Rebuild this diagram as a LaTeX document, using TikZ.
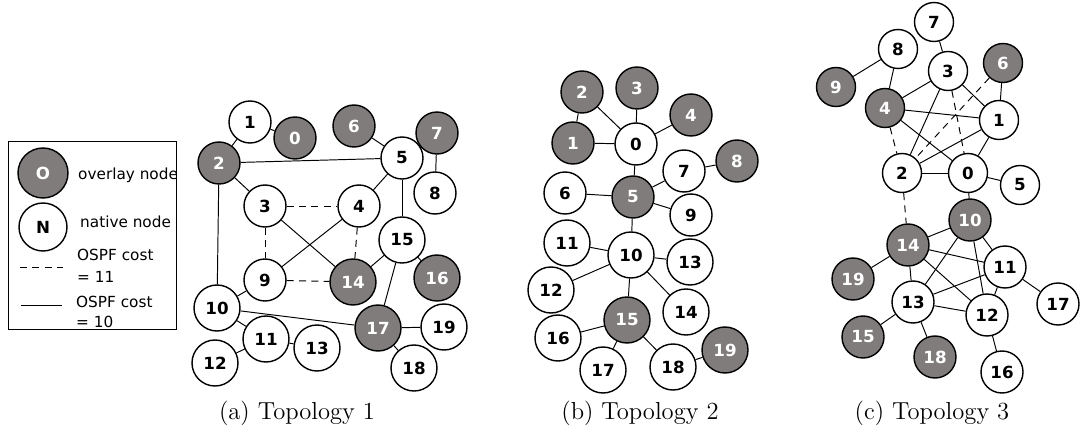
\documentclass[tikz,border=0pt]{standalone}
\usepackage{fontspec}
\newfontfamily\nodefont{DejaVu Sans}
\definecolor{ovlgray}{RGB}{128,124,124}
\begin{document}
\begin{tikzpicture}[x=0.02cm,y=-0.02cm,
  nat/.style={circle,draw,thick,fill=white,minimum size=42*0.02cm,inner sep=0pt,
    font=\nodefont\fontsize{9.5}{10}\selectfont\bfseries},
  ovl/.style={nat,fill=ovlgray,text=white},
  link/.style={line width=0.55pt},
  cost11/.style={link,dashed,dash pattern=on 4pt off 3pt},
  legtext/.style={anchor=west,font=\nodefont\fontsize{8.7}{10}\selectfont},
  caption/.style={font=\fontsize{14}{17}\selectfont}]
\useasboundingbox (0,0) rectangle (1082,435);

% Legend
\draw (8,141) rectangle (176,329);
\node[ovl,minimum size=50*0.02cm] (lo) at (43,173) {O};
\node[legtext] at (72,175) {overlay node};
\node[nat,minimum size=48*0.02cm] (ln) at (43,227) {N};
\node[legtext] at (74,222) {native node};
\coordinate (d1) at (20,267);
\coordinate (d2) at (63,267);
\draw[cost11] (d1) -- (d2);
\node[legtext] at (71,255) {OSPF cost};
\node[legtext] at (71,277) {= 11};
\coordinate (s1) at (21,305);
\coordinate (s2) at (62,305);
\draw[link] (s1) -- (s2);
\node[legtext] at (70,302) {OSPF cost};
\node[legtext] at (70,322) {= 10};

% Topology 1
\foreach \n/\x/\y in {1/250/122,3/265/206,4/359/206,5/402/158,8/435/193,9/265/280,
    10/217/308,11/266/339,12/215/363,13/317/348,15/402/240,18/414/368,19/444/327}{
  \pgfmathsetmacro\d{\n>9 ? 46 : 42}
  \node[nat,minimum size=\d*0.02cm] (a\n) at (\x,\y) {\n};}
\foreach \n/\x/\y in {0/295/138,2/219/163,6/354/126,7/437/133,14/353/282,16/437/278,17/378/328}{
  \pgfmathsetmacro\d{\n>9 ? 46 : 42}
  \node[ovl,minimum size=\d*0.02cm] (a\n) at (\x,\y) {\n};}
\foreach \u/\v in {1/2,1/0,2/5,2/3,2/10,6/5,7/5,7/8,5/4,5/15,3/14,4/9,15/14,15/16,15/17,
    9/10,10/11,10/17,11/12,11/13,17/19,17/18}
  \draw[link] (a\u) -- (a\v);
\foreach \u/\v in {3/4,3/9,4/14,9/14}
  \draw[cost11] (a\u) -- (a\v);

% Topology 2
\foreach \n/\x/\y in {0/636/144,6/565/193,7/684/171,9/691/215,10/631/255,11/567/243,
    12/551/290,13/690/262,14/686/312,16/558/338,17/603/370,18/673/367}{
  \pgfmathsetmacro\d{\n>9 ? 46 : 42}
  \node[nat,minimum size=\d*0.02cm] (b\n) at (\x,\y) {\n};}
\foreach \n/\x/\y in {1/573/143,2/582/92,3/637/88,4/691/115,5/633/197,8/737/161,
    15/627/320,19/725/350}{
  \pgfmathsetmacro\d{\n>9 ? 46 : 42}
  \node[ovl,minimum size=\d*0.02cm] (b\n) at (\x,\y) {\n};}
\foreach \u/\v in {2/1,2/0,1/0,3/0,4/0,0/5,5/6,5/7,7/8,5/9,5/10,10/11,10/12,10/13,
    10/14,10/15,15/16,15/17,15/18,18/19}
  \draw[link] (b\u) -- (b\v);

% Topology 3 (a bit tighter, so smaller circles)
\foreach \n/\x/\y in {0/968/173,1/999/120,2/902/173,3/948/71,5/1020/185,7/934/22,
    8/898/49,11/1005/267,12/987/315,13/913/302,16/1002/372,17/1058/304}{
  \pgfmathsetmacro\d{\n>9 ? 42 : 39}
  \node[nat,minimum size=\d*0.02cm] (c\n) at (\x,\y) {\n};}
\foreach \n/\x/\y in {4/885/108,6/1003/63,9/836/87,10/970/220,14/908/245,15/863/337,
    18/935/357,19/853/279}{
  \pgfmathsetmacro\d{\n>9 ? 42 : 39}
  \node[ovl,minimum size=\d*0.02cm] (c\n) at (\x,\y) {\n};}
\foreach \u/\v in {7/3,8/4,8/9,3/4,3/2,3/1,6/1,4/1,4/0,1/2,1/0,2/0,0/5,0/10,
    10/14,10/13,10/12,10/11,14/11,14/12,14/13,14/19,11/13,11/12,11/17,13/12,
    13/15,13/18,12/16}
  \draw[link] (c\u) -- (c\v);
\foreach \u/\v in {3/0,6/2,4/2,2/14}
  \draw[cost11] (c\u) -- (c\v);

% Captions
\node[caption] (capa) at (297,413) {(a) Topology 1};
\node[caption] (capb) at (640,413) {(b) Topology 2};
\node[caption] (capc) at (932,413) {(c) Topology 3};
\end{tikzpicture}
\end{document}
